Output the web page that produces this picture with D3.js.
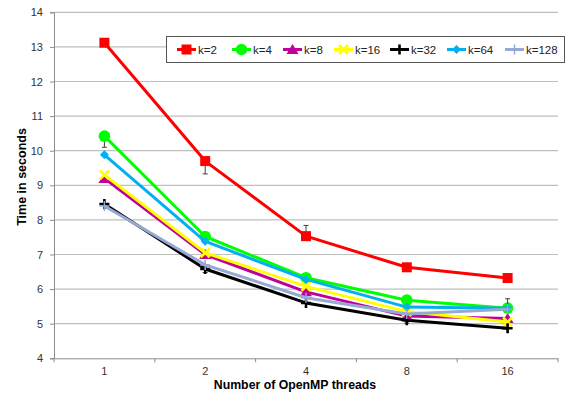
<!DOCTYPE html>
<html><head><meta charset="utf-8">
<script src="https://cdn.jsdelivr.net/npm/d3@7"></script>
<style>
html,body{margin:0;padding:0;background:#fff;}
svg{display:block;font-family:"Liberation Sans",Arial,sans-serif;}
</style></head>
<body>
<svg id="chart" width="571" height="402"></svg>
<script>
const categories = ["1","2","4","8","16"];
const seriesNames = ["k=2","k=4","k=8","k=16","k=32","k=64","k=128"];
const k2   = [13.12, 9.70, 7.53, 6.63, 6.32];
const k4   = [10.42, 7.52, 6.33, 5.68, 5.45];
const k8   = [9.20, 7.00, 5.92, 5.22, 5.15];
const k16  = [9.30, 7.05, 6.08, 5.35, 5.05];
const k32  = [8.46, 6.58, 5.60, 5.10, 4.87];
const k64  = [9.88, 7.38, 6.28, 5.48, 5.45];
const k128 = [8.40, 6.70, 5.75, 5.28, 5.42];
// error bars: [plus, minus] per point
const err2   = [[0,0],[0,0.37],[0.31,0],[0,0],[0,0]];
const err4   = [[0,0.32],[0,0],[0,0],[0,0],[0,0]];
const err8   = [[0,0],[0.12,0],[0,0],[0,0],[0,0]];
const err16  = [[0,0],[0,0],[0,0],[0,0],[0,0]];
const err32  = [[0,0],[0,0.1],[0,0],[0,0.08],[0,0]];
const err64  = [[0,0],[0,0],[0,0],[0,0],[0.27,0]];
const err128 = [[0,0],[0,0],[0,0],[0,0],[0,0]];
const yTicks = [4,5,6,7,8,9,10,11,12,13,14];
const xTitle = "Number of OpenMP threads";
const yTitle = "Time in seconds";

const colors = ["#ff0000","#00ff00","#c0009c","#ffff00","#000000","#00b0f0","#96a9d4"];
const markers = ["square","circle","triangle","x","plus","diamond","thinplus"];
const values = [k2,k4,k8,k16,k32,k64,k128];
const errs = [err2,err4,err8,err16,err32,err64,err128];

const svg = d3.select("#chart");
const pLeft = 54, pRight = 558, pTop = 12.3, pBottom = 358.3;

const x = d3.scaleBand().domain(categories).range([pLeft, pRight]);
const y = d3.scaleLinear().domain([4,14]).range([pBottom, pTop]);

// gridlines
svg.append("g").selectAll("line").data(yTicks.filter(d=>d>4)).join("line")
  .attr("x1", pLeft).attr("x2", pRight)
  .attr("y1", d=>y(d)).attr("y2", d=>y(d))
  .attr("stroke", "#bfbfbf").attr("stroke-width", 1.2);

// y axis
const yAxis = svg.append("g").attr("transform", `translate(${pLeft},0)`)
  .call(d3.axisLeft(y).tickValues(yTicks).tickSize(4).tickPadding(7).tickFormat(d3.format("d")));
yAxis.select(".domain").attr("stroke", "#8c8c8c");
yAxis.selectAll(".tick line").attr("stroke", "#8c8c8c");
yAxis.selectAll("text").attr("font-size", 11).attr("fill", "#333").attr("font-family","Liberation Sans, Arial, sans-serif");

// x axis
const xAxis = svg.append("g").attr("transform", `translate(0,${pBottom})`)
  .call(d3.axisBottom(x).tickSize(0).tickPadding(9));
xAxis.select(".domain").attr("stroke", "#8c8c8c");
xAxis.selectAll("text").attr("font-size", 11).attr("fill", "#333").attr("font-family","Liberation Sans, Arial, sans-serif");
// boundary ticks
const bounds = categories.map(c=>x(c)).concat([pRight]);
svg.append("g").selectAll("line").data(bounds).join("line")
  .attr("x1", d=>d).attr("x2", d=>d).attr("y1", pBottom).attr("y2", pBottom+4)
  .attr("stroke", "#8c8c8c");

// titles
svg.append("text").attr("x", 295).attr("y", 388.5).attr("text-anchor","middle")
  .attr("font-weight","bold").attr("font-size", 12.3).attr("fill","#000").text(xTitle);
svg.append("text").attr("transform","translate(26,177) rotate(-90)").attr("text-anchor","middle")
  .attr("font-weight","bold").attr("font-size", 12.5).attr("fill","#000").text(yTitle);

const cx = c => x(c) + x.bandwidth()/2;

function drawMarker(g, type, color, px, py) {
  if (type === "square") {
    g.append("rect").attr("x", px-5).attr("y", py-5).attr("width", 10).attr("height", 10).attr("fill", color);
  } else if (type === "circle") {
    g.append("circle").attr("cx", px).attr("cy", py).attr("r", 5.8).attr("fill", color);
  } else if (type === "triangle") {
    g.append("path").attr("d", `M${px},${py-5.5}L${px+6},${py+4.5}L${px-6},${py+4.5}Z`).attr("fill", color);
  } else if (type === "x") {
    g.append("path").attr("d", `M${px-4.5},${py-4.5}L${px+4.5},${py+4.5}M${px+4.5},${py-4.5}L${px-4.5},${py+4.5}`)
      .attr("stroke", color).attr("stroke-width", 2.6);
  } else if (type === "plus") {
    g.append("path").attr("d", `M${px-5},${py}L${px+5},${py}M${px},${py-5}L${px},${py+5}`)
      .attr("stroke", color).attr("stroke-width", 2.6);
  } else if (type === "diamond") {
    g.append("path").attr("d", `M${px},${py-4.5}L${px+4.5},${py}L${px},${py+4.5}L${px-4.5},${py}Z`).attr("fill", color);
  } else if (type === "thinplus") {
    g.append("path").attr("d", `M${px-5},${py}L${px+5},${py}M${px},${py-5}L${px},${py+5}`)
      .attr("stroke", color).attr("stroke-width", 1.5);
  }
}

const line = d3.line().x((d,i)=>cx(categories[i])).y(d=>y(d));

values.forEach((vals, si) => {
  const g = svg.append("g");
  vals.forEach((v, i) => {
    const [p, m] = errs[si][i];
    const px = cx(categories[i]);
    [[p, 1],[m, -1]].forEach(([e, s]) => {
      if (e > 0) {
        const ye = y(v + s*e);
        g.append("line").attr("x1", px).attr("x2", px).attr("y1", y(v)).attr("y2", ye)
          .attr("stroke", "#404040").attr("stroke-width", 1);
        g.append("line").attr("x1", px-2.5).attr("x2", px+2.5).attr("y1", ye).attr("y2", ye)
          .attr("stroke", "#404040").attr("stroke-width", 1);
      }
    });
  });
  g.append("path").datum(vals).attr("d", line).attr("fill","none")
    .attr("stroke", colors[si]).attr("stroke-width", 3).attr("stroke-linejoin","round");
  vals.forEach((v,i) => drawMarker(g, markers[si], colors[si], cx(categories[i]), y(v)));
});

// legend
const lg = svg.append("g");
const lx0 = 166.5, ly0 = 36.5, lw = 398, lh = 26;
lg.append("rect").attr("x", lx0).attr("y", ly0).attr("width", lw).attr("height", lh)
  .attr("fill","#fff").attr("stroke","#555").attr("stroke-width",1);
const legX = [177, 232, 283, 334, 390, 447, 505];
const lyc = ly0 + lh/2;
seriesNames.forEach((name, si) => {
  const gx = legX[si];
  lg.append("line").attr("x1", gx).attr("x2", gx+19).attr("y1", lyc).attr("y2", lyc)
    .attr("stroke", colors[si]).attr("stroke-width", 3);
  drawMarker(lg, markers[si], colors[si], gx+9.5, lyc);
  lg.append("text").attr("x", gx+21).attr("y", lyc+4).attr("font-size", 11.5).attr("fill","#222").text(name);
});
</script>
</body></html>
